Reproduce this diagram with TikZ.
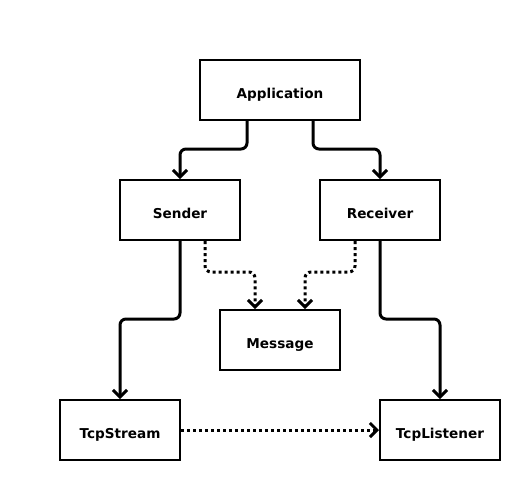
\documentclass[tikz,border=0pt]{standalone}
\usepackage{fontspec}
\setmainfont{DejaVu Sans}
\usetikzlibrary{arrows.meta,calc}
\begin{document}
\begin{tikzpicture}[x=1pt,y=-1pt,
  box/.style={draw=black,line width=2pt,fill=white,minimum width=120pt,minimum height=60pt,inner sep=0pt,text height=16pt,text depth=0pt,font=\fontsize{13.6}{15}\selectfont\bfseries},
  conn/.style={line width=3pt,rounded corners=6pt,-{Straight Barb[length=7pt,width=14pt,line width=3pt]}},
  dconn/.style={conn,dash pattern=on 3pt off 3pt}]
\fill[white] (0,0) rectangle (520,480);
\useasboundingbox (0,0) rectangle (520,480);
\node[box,minimum width=160pt] (app) at (280,90) {Application};
\node[box] (snd) at (180,210) {Sender};
\node[box] (rcv) at (380,210) {Receiver};
\node[box] (msg) at (280,340) {Message};
\node[box] (tcs) at (120,430) {TcpStream};
\node[box] (tcl) at (440,430) {TcpListener};
\draw[conn] ([xshift=-33pt]app.south) |- ($(snd.north)+(0,-30)$) -- (snd.north);
\draw[conn] ([xshift=33pt]app.south) |- ($(rcv.north)+(0,-30)$) -- (rcv.north);
\draw[conn] (snd.south) |- ($(tcs.north)+(0,-80)$) -- (tcs.north);
\draw[conn] (rcv.south) |- ($(tcl.north)+(0,-80)$) -- (tcl.north);
\draw[dconn] ([xshift=25pt]snd.south) |- ($(msg.north)+(-25,-37)$) -- ([xshift=-25pt]msg.north);
\draw[dconn] ([xshift=-25pt]rcv.south) |- ($(msg.north)+(25,-37)$) -- ([xshift=25pt]msg.north);
\draw[dconn] (tcs.east) -- (tcl.west);
\end{tikzpicture}
\end{document}
